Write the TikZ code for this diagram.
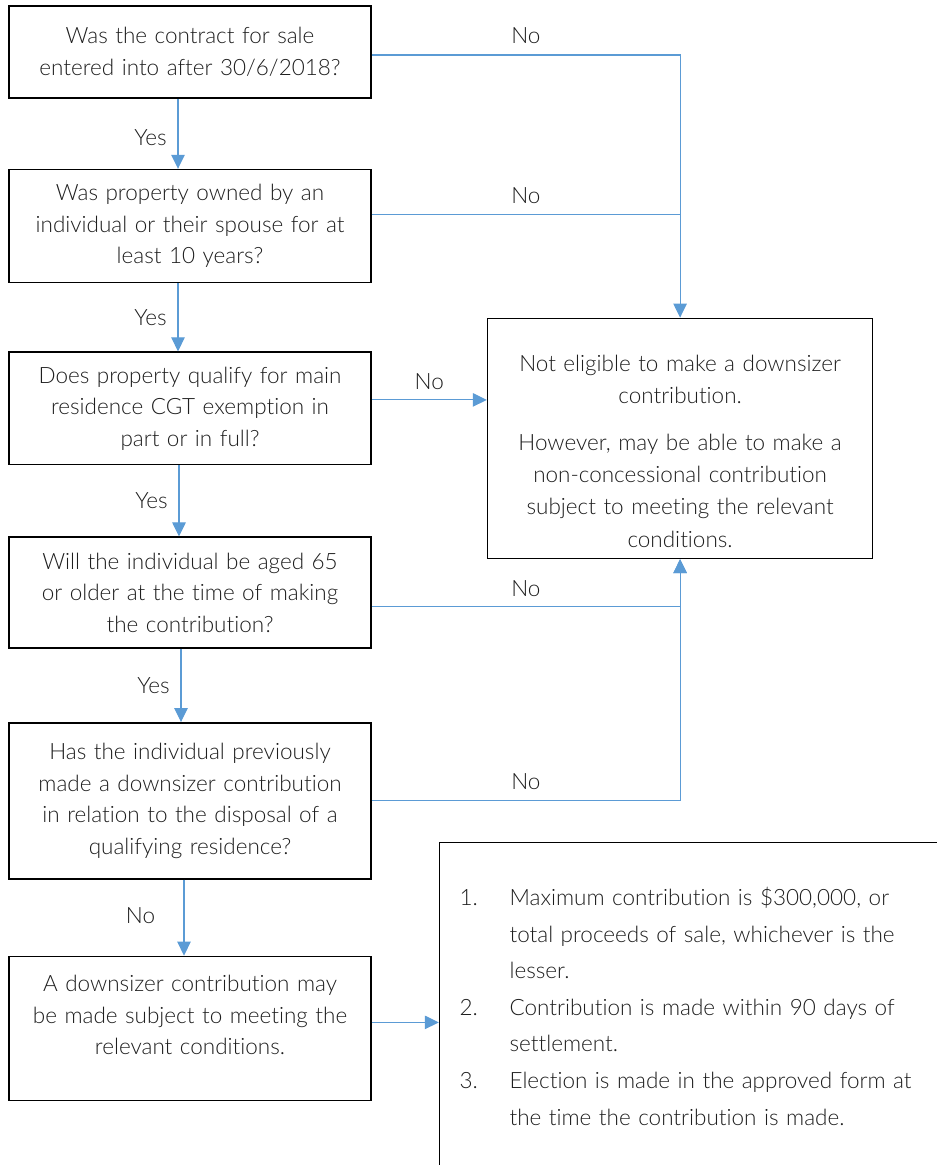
\documentclass[tikz,border=0pt]{standalone}
\usepackage{fontspec}
\setmainfont{Lato Light}[Ligatures={NoCommon,NoDiscretionary}]
\usetikzlibrary{positioning,arrows.meta}
\definecolor{flowblue}{HTML}{5B9BD5}
\definecolor{inkgrey}{HTML}{1E1E1E}

\begin{document}
\begin{tikzpicture}[->,>={Triangle[length=2.8mm,width=2.7mm]},node distance=1.45cm,
box/.style={draw,line width=0.9pt,align=center,text width=7cm,minimum width=7.24cm,minimum height=2.25cm,inner sep=0pt,text=inkgrey,font=\fontsize{12.8}{17.9}\selectfont},
link/.style={flowblue,line width=0.6pt},
lbl/.style={text=inkgrey,font=\fontsize{12.8}{16}\selectfont}]

\clip[use as bounding box](0,0)rectangle(18.74,-23.3);

\node[box,minimum height=1.84cm](q1) at (3.80,-1.04){Was the contract for sale\\entered into after 30/6/2018?};
\node[box,minimum height=2.26cm](q2)[below=1.4cm of q1]{Was property owned by an\\individual or their spouse for at\\least 10 years?};
\node[box](q3)[below=1.36cm of q2]{Does property qualify for main\\residence CGT exemption in\\part or in full?};
\node[box,minimum height=2.22cm](q4)[below=1.42cm of q3]{Will the individual be aged 65\\or older at the time of making\\the contribution?};
\node[box,minimum height=3.12cm](q5)[below=1.46cm of q4]{Has the individual previously\\made a downsizer contribution\\in relation to the disposal of a\\qualifying residence?};
\node[box,minimum height=2.88cm,text depth=1.8cm](q6)[below=1.52cm of q5]{A downsizer contribution may\\be made subject to meeting the\\relevant conditions.};
\node[box,minimum width=7.7cm,minimum height=4.8cm,text width=7.4cm,text height=0.84cm,font=\fontsize{12.8}{18.4}\selectfont](q7)[right=2.3cm of q3,yshift=-0.6cm]{Not eligible to make a downsizer\\contribution.\\[0.28cm]However, may be able to make a\\non-concessional contribution\\subject to meeting the relevant\\conditions.};
\node[box,align=left,text width=9.6cm,inner xsep=0.4cm,inner ysep=0.9cm,font=\fontsize{12.8}{20.8}\selectfont](q8)[right=1.34cm of q6.north east,anchor=north west,yshift=2.28cm]{%
\makebox[1cm][l]{1.}Maximum contribution is \$300,000, or\\
\hspace*{1cm}total proceeds of sale, whichever is the\\
\hspace*{1cm}lesser.\\
\makebox[1cm][l]{2.}Contribution is made within 90 days of\\
\hspace*{1cm}settlement.\\
\makebox[1cm][l]{3.}Election is made in the approved form at\\
\hspace*{1cm}the time the contribution is made.};

% Yes / No down the left column
\draw[link]([xshift=-0.24cm]q1.south)--node[lbl,left,xshift=-0.1cm,yshift=-0.08cm]{Yes}([xshift=-0.24cm]q2.north);
\draw[link]([xshift=-0.24cm]q2.south)--node[lbl,left,xshift=-0.1cm]{Yes}([xshift=-0.24cm]q3.north);
\draw[link]([xshift=-0.22cm]q3.south)--node[lbl,left,xshift=-0.1cm]{Yes}([xshift=-0.22cm]q4.north);
\draw[link]([xshift=-0.18cm]q4.south)--node[lbl,left,xshift=-0.1cm]{Yes}([xshift=-0.18cm]q5.north);
\draw[link]([xshift=-0.12cm]q5.south)--node[lbl,left,xshift=-0.45cm,yshift=0.05cm]{No}([xshift=-0.12cm]q6.north);

% No branches to the right
\draw[link]([yshift=-0.06cm]q1.east)-|node[lbl,above,pos=0.25,yshift=0.1cm]{No}(q7.north);
\draw[link,-]([yshift=0.23cm]q2.east)--node[lbl,above,yshift=0.1cm]{No}([yshift=0.23cm]q2.east-|q7.north);
\draw[link]([yshift=0.17cm]q3.east)--node[lbl,above,yshift=0.08cm]{No}([yshift=0.17cm]q3.east-|q7.west);
\draw[link]([yshift=-0.28cm]q4.east)-|node[lbl,above,pos=0.25,yshift=0.08cm]{No}(q7.south);
\draw[link](q5.east)-|node[lbl,above,pos=0.25,yshift=0.1cm]{No}(q7.south);
\draw[link]([yshift=0.12cm]q6.east)--([yshift=0.12cm]q6.east-|q8.west);

\end{tikzpicture}
\end{document}
